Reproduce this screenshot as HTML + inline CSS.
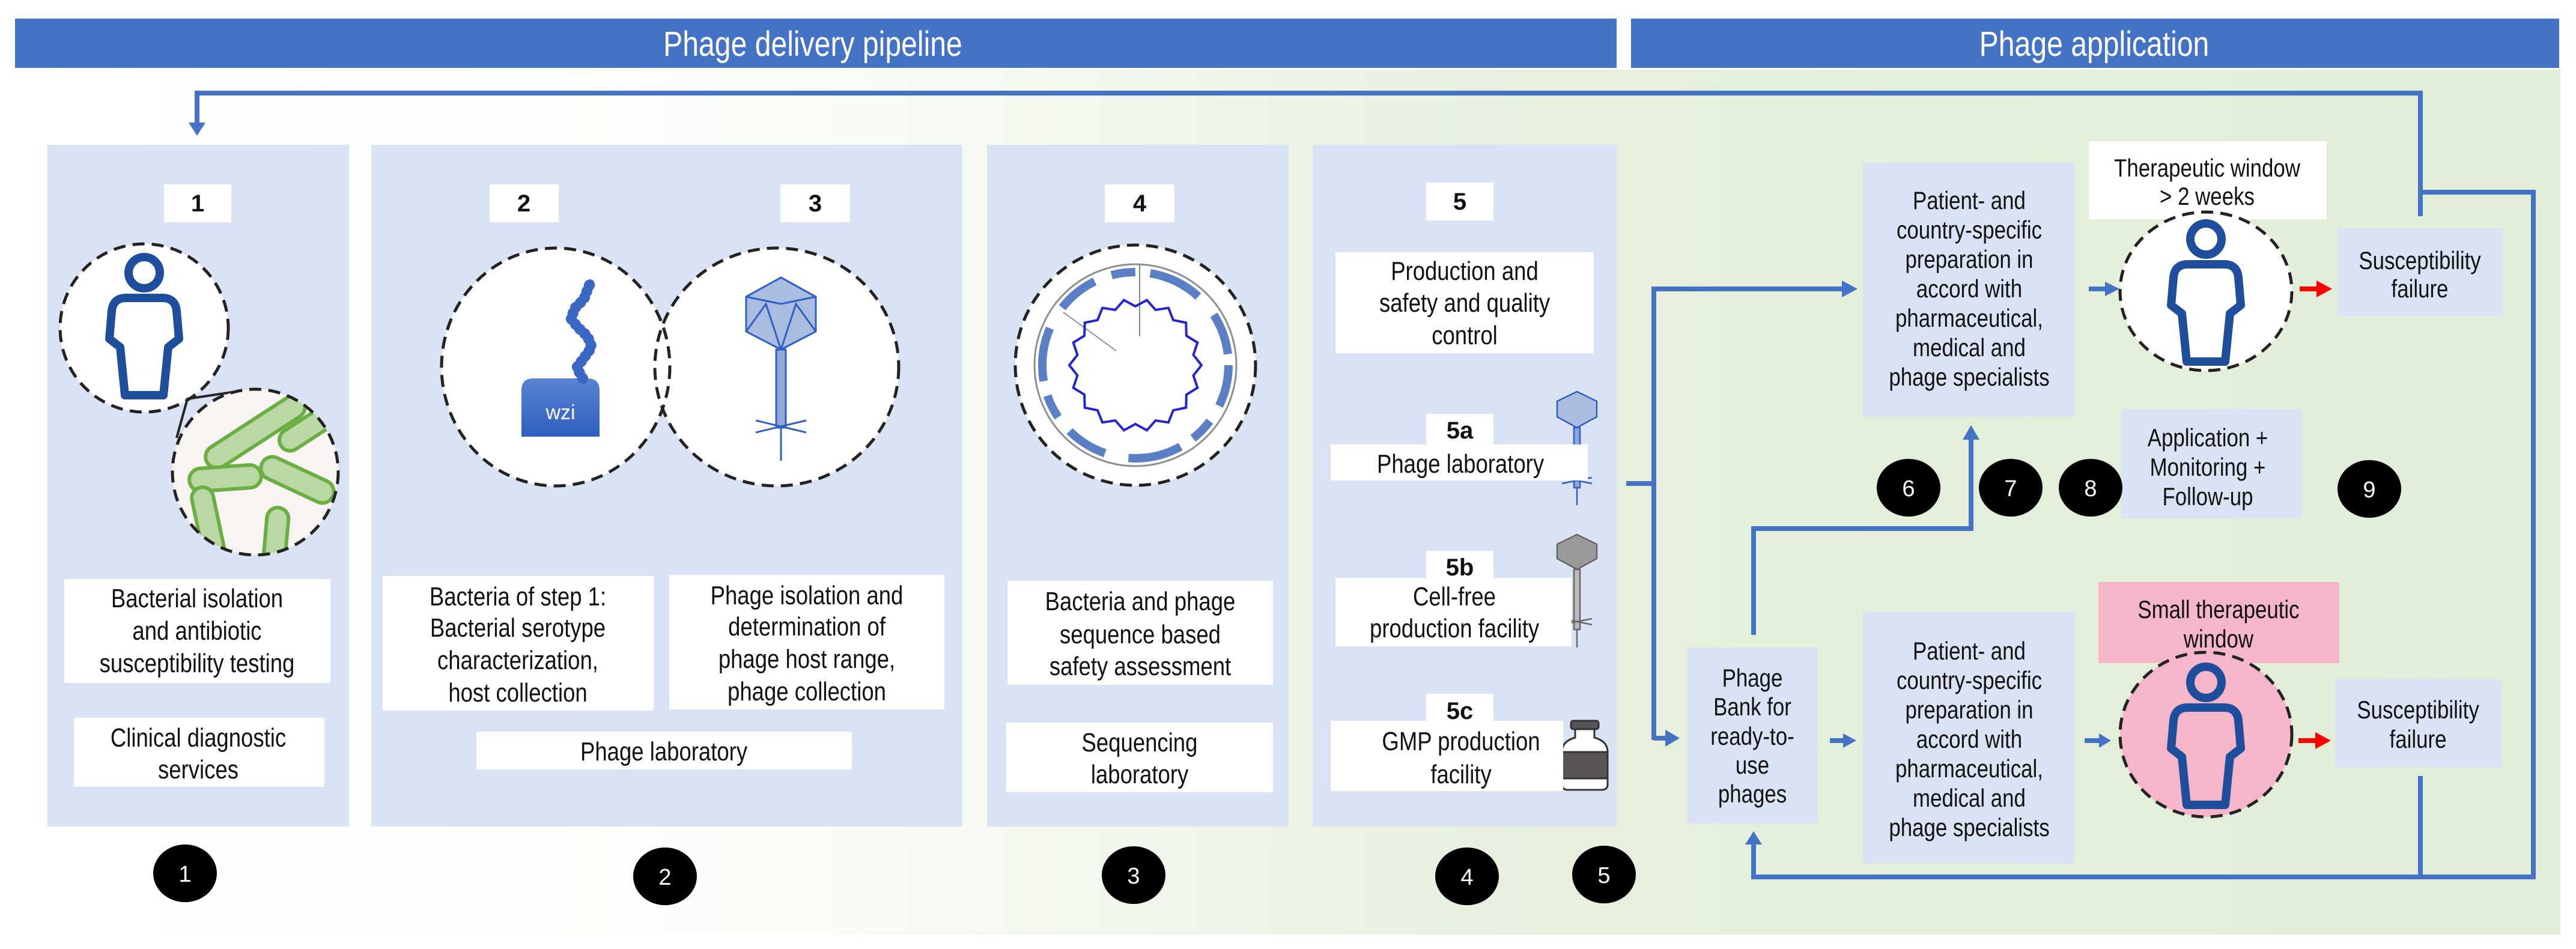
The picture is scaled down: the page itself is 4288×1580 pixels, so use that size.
<!DOCTYPE html>
<html><head><meta charset="utf-8"><style>
html,body{margin:0;padding:0;background:#fff;}
svg{display:block;}
text{font-family:"Liberation Sans Narrow","Liberation Sans",Arial,sans-serif;fill:#111;}
.t,.r,.hd{transform-box:fill-box;transform-origin:center;transform:scaleX(0.83);}
.t{font-size:44px;text-anchor:middle;}
.r{font-size:42px;text-anchor:middle;}
.lb{font-size:40px;font-weight:bold;text-anchor:middle;font-family:"Liberation Sans",Arial,sans-serif;}
.num{font-size:38px;fill:#fff;text-anchor:middle;font-family:"Liberation Sans",Arial,sans-serif;}
.hd{font-size:58px;fill:#fff;text-anchor:middle;}
</style></head><body>
<svg width="4288" height="1580" viewBox="0 0 4288 1580" xmlns="http://www.w3.org/2000/svg">
<defs>
<linearGradient id="bg" x1="0" y1="0" x2="1" y2="0">
<stop offset="0" stop-color="#ffffff"/>
<stop offset="0.3" stop-color="#fbfdf9"/>
<stop offset="0.6" stop-color="#e6f0dd"/>
<stop offset="1" stop-color="#e2eed8"/>
</linearGradient>
<linearGradient id="wz" x1="0" y1="0" x2="0" y2="1">
<stop offset="0" stop-color="#5a84d2"/><stop offset="1" stop-color="#2f5fc0"/>
</linearGradient>
<clipPath id="bc"><circle cx="425" cy="786" r="138"/></clipPath>
<g id="person" fill="none" stroke="#1f4e9d" stroke-width="14" stroke-linejoin="round">
<circle cx="0" cy="-92" r="26"/>
<path d="M -30,-50 Q -52,-50 -54,-28 L -58,18 L -40,32 L -32,112 L 32,112 L 40,32 L 58,18 L 54,-28 Q 52,-50 30,-50 Z"/>
</g>
</defs>
<rect x="0" y="116" width="4262" height="1440" fill="url(#bg)"/>

<rect x="25" y="31" width="2666" height="82" fill="#4472c4"/>
<text class="hd" x="1353" y="93">Phage delivery pipeline</text>
<rect x="2715" y="31" width="1545" height="82" fill="#4472c4"/>
<text class="hd" x="3486" y="93">Phage application</text>

<g fill="#dae3f3">
<rect x="79" y="241" width="502" height="1135"/>
<rect x="618" y="241" width="984" height="1135"/>
<rect x="1643" y="241" width="502" height="1135"/>
<rect x="2185" y="241" width="506" height="1135"/>
</g>

<g stroke="#4472c4" stroke-width="8" fill="none">
<polyline points="328,206 328,155 4029,155 4029,360"/>
<polyline points="4029,320 4217,320 4217,1460 2919,1460 2919,1400"/>
<line x1="4029" y1="1292" x2="4029" y2="1460"/>
<line x1="2707" y1="805" x2="2757" y2="805"/>
<polyline points="2753,1232 2753,481 3070,481"/>
<line x1="2753" y1="1229" x2="2776" y2="1229"/>
<polyline points="2919,1057 2919,880 3281,880 3281,728"/>
<line x1="3046" y1="1233" x2="3072" y2="1233"/>
<line x1="3477" y1="481" x2="3508" y2="481"/>
<line x1="3470" y1="1233" x2="3496" y2="1233"/>
</g>
<g fill="#4472c4">
<polygon points="314,204 342,204 328,226"/>
<polygon points="3066,467 3092,481 3066,495"/>
<polygon points="2772,1215 2796,1229 2772,1243"/>
<polygon points="2905,1406 2919,1384 2933,1406"/>
<polygon points="3267,732 3281,708 3295,732"/>
<polygon points="3068,1221 3090,1233 3068,1245"/>
<polygon points="3504,469 3528,481 3504,493"/>
<polygon points="3494,1221 3514,1233 3494,1245"/>
</g>
<g stroke="#ff0000" stroke-width="8"><line x1="3828" y1="481" x2="3860" y2="481"/><line x1="3826" y1="1233" x2="3858" y2="1233"/></g>
<g fill="#ff0000"><polygon points="3856,467 3882,481 3856,495"/><polygon points="3854,1219 3880,1233 3854,1247"/></g>

<g fill="#fff">
<rect x="273" y="307" width="112" height="63"/>
<rect x="815" y="307" width="115" height="63"/>
<rect x="1299" y="307" width="116" height="63"/>
<rect x="1839" y="307" width="116" height="63"/>
<rect x="2374" y="304" width="112" height="63"/>
</g>
<text class="lb" x="329" y="352">1</text>
<text class="lb" x="872" y="352">2</text>
<text class="lb" x="1357" y="352">3</text>
<text class="lb" x="1897" y="352">4</text>
<text class="lb" x="2430" y="349">5</text>

<circle cx="240" cy="546" r="140" fill="#fff" stroke="#222" stroke-width="5" stroke-dasharray="20,12"/>
<use href="#person" x="240" y="546"/>
<polyline points="400,651 312,664 294,729" fill="none" stroke="#222" stroke-width="4"/>
<circle cx="425" cy="786" r="138" fill="#f7f4f1"/>
<g clip-path="url(#bc)" fill="#b9d8a4" stroke="#6aae44" stroke-width="6">
<rect x="330" y="700" width="190" height="38" rx="19" transform="rotate(-33 425 719)"/>
<rect x="430" y="740" width="130" height="36" rx="18" transform="rotate(-33 500 700) translate(20,-40)"/>
<rect x="430" y="780" width="130" height="38" rx="19" transform="rotate(25 495 799)"/>
<rect x="315" y="777" width="120" height="38" rx="19" transform="rotate(-4 375 796)"/>
<rect x="330" y="810" width="36" height="140" rx="18" transform="rotate(-12 348 880)"/>
<rect x="441" y="845" width="36" height="110" rx="18" transform="rotate(5 459 900)"/>
</g>
<circle cx="425" cy="786" r="138" fill="none" stroke="#222" stroke-width="5" stroke-dasharray="20,12"/>

<ellipse cx="925" cy="611" rx="190" ry="198" fill="#fff"/>
<ellipse cx="1293" cy="611" rx="203" ry="198" fill="#fff"/>
<ellipse cx="925" cy="611" rx="190" ry="198" fill="none" stroke="#222" stroke-width="5" stroke-dasharray="20,12"/>
<ellipse cx="1293" cy="611" rx="203" ry="198" fill="none" stroke="#222" stroke-width="5" stroke-dasharray="20,12"/>
<path d="M868,727 L868,650 Q868,630 888,630 L978,630 Q998,630 998,650 L998,727 Z" fill="url(#wz)"/>
<text x="933" y="698" style="font-family:'Liberation Sans',sans-serif;font-size:34px;fill:#fff;text-anchor:middle;">wzi</text>
<polyline points="970,630 960,612 972,596 985,578 978,560 962,545 950,530 958,512 972,498 978,482 985,466" fill="none" stroke="#3a66c4" stroke-width="18" stroke-linecap="round" stroke-dasharray="1,10"/>
<polyline points="970,630 960,612 972,596 985,578 978,560 962,545 950,530 958,512 972,498 978,482 985,466" fill="none" stroke="#3a66c4" stroke-width="8"/>
<g stroke="#2f5fc0" stroke-width="3" fill="#aabce0">
<polygon points="1300,462 1358,494 1358,552 1300,582 1242,552 1242,494"/>
<polyline points="1242,494 1300,506 1358,494 M1300,462 1300,506" fill="none"/>
<polyline points="1242,552 1275,506 1300,582 1325,506 1358,552 M1275,506 1325,506 M1242,552 1358,552" fill="none"/>
</g>
<rect x="1292" y="582" width="16" height="130" fill="#8fa8dc" stroke="#2f5fc0" stroke-width="3"/>
<g stroke="#2f5fc0" stroke-width="3"><line x1="1258" y1="700" x2="1342" y2="720"/><line x1="1258" y1="720" x2="1342" y2="700"/><line x1="1300" y1="712" x2="1300" y2="767"/></g>

<circle cx="1890" cy="608" r="200" fill="#fff" stroke="#222" stroke-width="5" stroke-dasharray="20,12"/>
<circle cx="1890" cy="608" r="168" fill="none" stroke="#8a8f98" stroke-width="3"/>
<circle cx="1890" cy="608" r="155" fill="none" stroke="#5b7fc4" stroke-width="14" stroke-dasharray="70,30,40,25,90,40"/>
<line x1="1897" y1="440" x2="1897" y2="560" stroke="#6a9a6a" stroke-width="2"/>
<line x1="1770" y1="520" x2="1858" y2="584" stroke="#8a8f98" stroke-width="2"/>
<g transform="translate(1890,608)"><polygon fill="none" stroke="#2424d0" stroke-width="4" points="110,0 96.5,17.1 103.4,37.6 84.9,49 84.3,70.7 63,75.1 55,95.3 33.5,92.1 19.1,108.4 0,98 -19.1,108.4 -33.5,92.1 -55,95.3 -63,75.1 -84.3,70.7 -84.9,49 -103.4,37.6 -96.5,17.1 -110,0 -96.5,-17.1 -103.4,-37.6 -84.9,-49 -84.3,-70.7 -63,-75.1 -55,-95.3 -33.5,-92.1 -19.1,-108.4 0,-98 19.1,-108.4 33.5,-92.1 55,-95.3 63,-75.1 84.3,-70.7 84.9,-49 103.4,-37.6 96.5,-17.1"/></g>

<g stroke="#2f5fc0" stroke-width="2.5" fill="#aabce0">
<polygon points="2625,652 2658,668 2658,694 2625,712 2592,694 2592,668"/>
<rect x="2620" y="712" width="10" height="100" fill="#8fa8dc"/>
<line x1="2600" y1="795" x2="2650" y2="805"/><line x1="2600" y1="805" x2="2650" y2="795"/><line x1="2625" y1="812" x2="2625" y2="841"/>
</g>
<g stroke="#666" stroke-width="2.5" fill="#9a9a9a">
<polygon points="2625,890 2658,906 2658,930 2625,948 2592,930 2592,906"/>
<rect x="2620" y="948" width="10" height="100" fill="#bbb"/>
<line x1="2600" y1="1030" x2="2650" y2="1040"/><line x1="2600" y1="1040" x2="2650" y2="1030"/><line x1="2625" y1="1048" x2="2625" y2="1078"/>
</g>
<g stroke="#333" stroke-width="3">
<rect x="2615" y="1200" width="46" height="14" rx="4" fill="#555"/>
<path d="M2622,1214 L2622,1228 Q2600,1234 2600,1252 L2600,1306 Q2600,1315 2610,1315 L2666,1315 Q2676,1315 2676,1306 L2676,1252 Q2676,1234 2654,1228 L2654,1214 Z" fill="#fff"/>
<rect x="2600" y="1252" width="76" height="44" fill="#5a5555"/>
</g>

<g fill="#fff">
<rect x="107" y="964" width="443" height="173"/>
<rect x="123" y="1195" width="417" height="115"/>
<rect x="637" y="959" width="451" height="224"/>
<rect x="1114" y="957" width="458" height="224"/>
<rect x="793" y="1218" width="625" height="63"/>
<rect x="1677" y="967" width="442" height="173"/>
<rect x="1675" y="1203" width="444" height="116"/>
<rect x="2223" y="420" width="430" height="168"/>
<rect x="2374" y="689" width="112" height="51"/>
<rect x="2215" y="740" width="428" height="60"/>
<rect x="2374" y="917" width="112" height="45"/>
<rect x="2223" y="962" width="393" height="114"/>
<rect x="2374" y="1155" width="112" height="45"/>
<rect x="2215" y="1200" width="387" height="117"/>
</g>
<text class="t" x="328" y="1011">Bacterial isolation</text>
<text class="t" x="328" y="1065">and antibiotic</text>
<text class="t" x="328" y="1119">susceptibility testing</text>
<text class="t" x="330" y="1243">Clinical diagnostic</text>
<text class="t" x="330" y="1296">services</text>
<text class="t" x="862" y="1008">Bacteria of step 1:</text>
<text class="t" x="862" y="1060">Bacterial serotype</text>
<text class="t" x="862" y="1114">characterization,</text>
<text class="t" x="862" y="1168">host collection</text>
<text class="t" x="1343" y="1006">Phage isolation and</text>
<text class="t" x="1343" y="1058">determination of</text>
<text class="t" x="1343" y="1112">phage host range,</text>
<text class="t" x="1343" y="1166">phage collection</text>
<text class="t" x="1105" y="1266">Phage laboratory</text>
<text class="t" x="1898" y="1016">Bacteria and phage</text>
<text class="t" x="1898" y="1071">sequence based</text>
<text class="t" x="1898" y="1124">safety assessment</text>
<text class="t" x="1897" y="1251">Sequencing</text>
<text class="t" x="1897" y="1304">laboratory</text>
<text class="t" x="2438" y="466">Production and</text>
<text class="t" x="2438" y="519">safety and quality</text>
<text class="t" x="2438" y="573">control</text>
<text class="lb" x="2430" y="730">5a</text>
<text class="t" x="2431" y="787">Phage laboratory</text>
<text class="lb" x="2430" y="958">5b</text>
<text class="t" x="2421" y="1008">Cell-free</text>
<text class="t" x="2421" y="1061">production facility</text>
<text class="lb" x="2430" y="1197">5c</text>
<text class="t" x="2432" y="1249">GMP production</text>
<text class="t" x="2432" y="1304">facility</text>

<g fill="#dae3f3">
<rect x="3101" y="271" width="353" height="423"/>
<rect x="3101" y="1018" width="353" height="420"/>
<rect x="2809" y="1078" width="217" height="293"/>
<rect x="3891" y="380" width="276" height="147"/>
<rect x="3887" y="1130" width="277" height="148"/>
<rect x="3531" y="681" width="301" height="182"/>
</g>
<rect x="3477" y="235" width="396" height="130" fill="#fff"/>
<rect x="3493" y="969" width="401" height="135" fill="#f4b6c8"/>
<ellipse cx="3672" cy="485" rx="143" ry="132" fill="#fff" stroke="#222" stroke-width="5" stroke-dasharray="20,12"/>
<use href="#person" x="3672" y="490"/>
<ellipse cx="3672" cy="1223" rx="143" ry="137" fill="#f4b6c8" stroke="#222" stroke-width="5" stroke-dasharray="20,12"/>
<use href="#person" x="3672" y="1228"/>

<text class="r" x="3278" y="348">Patient- and</text>
<text class="r" x="3278" y="397">country-specific</text>
<text class="r" x="3278" y="446">preparation in</text>
<text class="r" x="3278" y="495">accord with</text>
<text class="r" x="3278" y="544">pharmaceutical,</text>
<text class="r" x="3278" y="593">medical and</text>
<text class="r" x="3278" y="642">phage specialists</text>
<text class="r" x="3278" y="1098">Patient- and</text>
<text class="r" x="3278" y="1147">country-specific</text>
<text class="r" x="3278" y="1196">preparation in</text>
<text class="r" x="3278" y="1245">accord with</text>
<text class="r" x="3278" y="1294">pharmaceutical,</text>
<text class="r" x="3278" y="1343">medical and</text>
<text class="r" x="3278" y="1392">phage specialists</text>
<text class="r" x="2917" y="1143">Phage</text>
<text class="r" x="2917" y="1191">Bank for</text>
<text class="r" x="2917" y="1240">ready-to-</text>
<text class="r" x="2917" y="1288">use</text>
<text class="r" x="2917" y="1336">phages</text>
<text class="r" x="3674" y="294">Therapeutic window</text>
<text class="r" x="3674" y="341">&gt; 2 weeks</text>
<text class="r" x="4028" y="448">Susceptibility</text>
<text class="r" x="4028" y="495">failure</text>
<text class="r" x="4025" y="1196">Susceptibility</text>
<text class="r" x="4025" y="1245">failure</text>
<text class="r" x="3675" y="743">Application +</text>
<text class="r" x="3675" y="792">Monitoring +</text>
<text class="r" x="3675" y="841">Follow-up</text>
<text class="r" x="3693" y="1029">Small therapeutic</text>
<text class="r" x="3693" y="1078">window</text>

<g fill="#000">
<ellipse cx="308" cy="1454" rx="53" ry="48"/>
<ellipse cx="1107" cy="1459" rx="53" ry="48"/>
<ellipse cx="1887" cy="1457" rx="53" ry="48"/>
<ellipse cx="2442" cy="1459" rx="53" ry="48"/>
<ellipse cx="2670" cy="1456" rx="53" ry="48"/>
<ellipse cx="3177" cy="812" rx="53" ry="48"/>
<ellipse cx="3347" cy="812" rx="53" ry="48"/>
<ellipse cx="3480" cy="812" rx="53" ry="48"/>
<ellipse cx="3944" cy="814" rx="53" ry="48"/>
</g>
<text class="num" x="308" y="1468">1</text>
<text class="num" x="1107" y="1473">2</text>
<text class="num" x="1887" y="1471">3</text>
<text class="num" x="2442" y="1473">4</text>
<text class="num" x="2670" y="1470">5</text>
<text class="num" x="3177" y="826">6</text>
<text class="num" x="3347" y="826">7</text>
<text class="num" x="3480" y="826">8</text>
<text class="num" x="3944" y="828">9</text>
</svg>
</body></html>
